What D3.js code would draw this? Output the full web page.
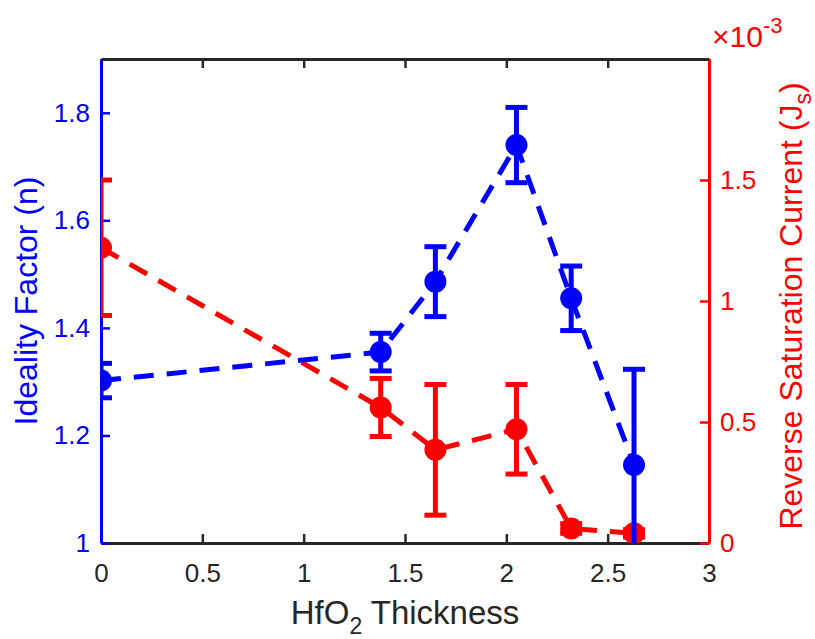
<!DOCTYPE html>
<html><head><meta charset="utf-8">
<script src="https://cdn.jsdelivr.net/npm/d3@7"></script>
<style>body{margin:0;background:#fff}svg{display:block}text{font-family:"Liberation Sans",Arial,sans-serif}</style>
</head><body><svg id="c" width="815" height="639"></svg>
<script>
const thickness = [0, 1.38, 1.65, 2.05, 2.32, 2.63];
const ideality = [1.302, 1.355, 1.486, 1.740, 1.455, 1.145];
const idealityErr = [0.032, 0.035, 0.065, 0.070, 0.060, 0.178];
const jsVals = [1.22, 0.56, 0.385, 0.47, 0.06, 0.04];
const jsErr = [0.28, 0.12, 0.27, 0.185, 0.02, 0.015];
const xTicks = [0, 0.5, 1, 1.5, 2, 2.5, 3];
const yLeftTicks = [1, 1.2, 1.4, 1.6, 1.8];
const yRightTicks = [0, 0.5, 1, 1.5];

const svg = d3.select("#c");
const L = 101, R = 709, T = 59, B = 543;
const BLUE = "#0000ff", RED = "#ff0000", DARK = "#262626";
const x = d3.scaleLinear().domain([0, 3]).range([L, R]);
const yL = d3.scaleLinear().domain([1, 1.9]).range([B, T]);
const yR = d3.scaleLinear().domain([0, 2]).range([B, T]);

svg.append("defs").append("clipPath").attr("id", "pc")
  .append("rect").attr("x", L).attr("y", T).attr("width", R - L).attr("height", B - T);

const fs = "26px";
const gx = svg.append("g").attr("transform", `translate(0,${B})`)
  .call(d3.axisBottom(x).tickValues(xTicks).tickFormat(d3.format("")).tickSizeInner(-9).tickSizeOuter(0).tickPadding(21));
gx.select(".domain").attr("stroke", DARK).attr("stroke-width", 3);
gx.selectAll(".tick line").attr("stroke", DARK).attr("stroke-width", 2.5);
gx.selectAll(".tick text").attr("fill", DARK).style("font-size", fs);
const gt = svg.append("g").attr("transform", `translate(0,${T})`)
  .call(d3.axisTop(x).tickValues(xTicks).tickFormat("").tickSizeInner(-9).tickSizeOuter(0));
gt.select(".domain").attr("stroke", DARK).attr("stroke-width", 3);
gt.selectAll(".tick line").attr("stroke", DARK).attr("stroke-width", 2.5);

const gl = svg.append("g").attr("transform", `translate(${L},0)`)
  .call(d3.axisLeft(yL).tickValues(yLeftTicks).tickFormat(d3.format("")).tickSizeInner(-9).tickSizeOuter(0).tickPadding(11));
gl.select(".domain").attr("stroke", BLUE).attr("stroke-width", 3);
gl.selectAll(".tick line").attr("stroke", BLUE).attr("stroke-width", 2.5);
gl.selectAll(".tick text").attr("fill", BLUE).style("font-size", fs);
const gr = svg.append("g").attr("transform", `translate(${R},0)`)
  .call(d3.axisRight(yR).tickValues(yRightTicks).tickFormat(d3.format("")).tickSizeInner(-9).tickSizeOuter(0).tickPadding(11));
gr.select(".domain").attr("stroke", RED).attr("stroke-width", 3);
gr.selectAll(".tick line").attr("stroke", RED).attr("stroke-width", 2.5);
gr.selectAll(".tick text").attr("fill", RED).style("font-size", fs);

function series(vals, errs, y, color) {
  const g = svg.append("g").attr("clip-path", "url(#pc)");
  const pts = thickness.map((t, i) => ({ t, v: vals[i], e: errs[i] }));
  g.append("path").datum(pts)
    .attr("d", d3.line().x(d => x(d.t)).y(d => y(d.v)))
    .attr("fill", "none").attr("stroke", color).attr("stroke-width", 5)
    .attr("stroke-dasharray", "20,13");
  const eb = g.selectAll(null).data(pts).enter().append("g");
  eb.append("line").attr("x1", d => x(d.t)).attr("x2", d => x(d.t))
    .attr("y1", d => y(d.v - d.e)).attr("y2", d => y(d.v + d.e))
    .attr("stroke", color).attr("stroke-width", 5);
  const cw = 11;
  [-1, 1].forEach(s => {
    eb.append("line").attr("x1", d => x(d.t) - cw).attr("x2", d => x(d.t) + cw)
      .attr("y1", d => y(d.v + s * d.e)).attr("y2", d => y(d.v + s * d.e))
      .attr("stroke", color).attr("stroke-width", 5);
  });
  eb.append("circle").attr("cx", d => x(d.t)).attr("cy", d => y(d.v)).attr("r", 11).attr("fill", color);
}
series(jsVals, jsErr, yR, RED);
series(ideality, idealityErr, yL, BLUE);

svg.append("text").attr("transform", `translate(37,${(T + B) / 2}) rotate(-90)`)
  .attr("text-anchor", "middle").attr("fill", BLUE).style("font-size", "32px").text("Ideality Factor (n)");
const rl = svg.append("text").attr("transform", `translate(802,306) rotate(-90)`)
  .attr("text-anchor", "middle").attr("fill", RED).style("font-size", "32px");
rl.append("tspan").text("Reverse Saturation Current (J");
rl.append("tspan").attr("dy", 9).style("font-size", "23px").text("s");
rl.append("tspan").attr("dy", -9).text(")");
const xl = svg.append("text").attr("x", (L + R) / 2).attr("y", 624)
  .attr("text-anchor", "middle").attr("fill", DARK).style("font-size", "33px");
xl.append("tspan").text("HfO");
xl.append("tspan").attr("dy", 10).style("font-size", "23px").text("2");
xl.append("tspan").attr("dy", -10).text(" Thickness");
const mx = svg.append("text").attr("x", 712).attr("y", 47).attr("fill", RED).style("font-size", "30px");
mx.append("tspan").style("font-weight", "300").text("\u00d7");
mx.append("tspan").text("10");
mx.append("tspan").attr("dy", -14).style("font-size", "22px").text("-3");
</script></body></html>
